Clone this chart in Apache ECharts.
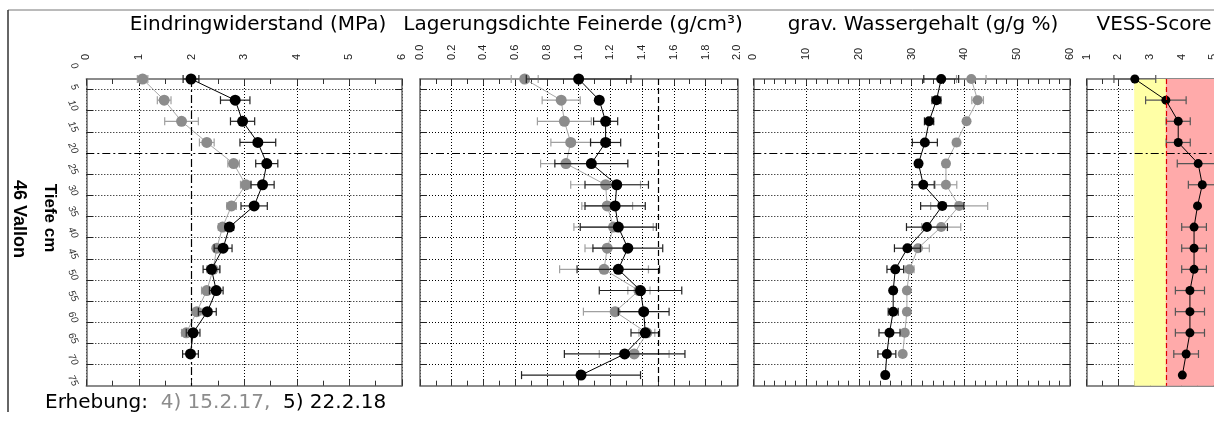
<!DOCTYPE html>
<html>
<head>
<meta charset="utf-8">
<script src="https://cdn.jsdelivr.net/npm/echarts@6/dist/echarts.min.js"></script>
<style>
  html, body { margin: 0; padding: 0; background: #fff; }
  #chart { width: 1214px; height: 421px; }
</style>
</head>
<body>
<div id="chart"></div>
<script>
// Mid-depth of each sampled layer (cm)
const depth = [2.5, 7.5, 12.5, 17.5, 22.5, 27.5, 32.5, 37.5, 42.5, 47.5, 52.5, 57.5, 62.5, 67.5, 72.5];
// Depth tick values and labels
const depthTicks = [5, 10, 15, 20, 25, 30, 35, 40, 45, 50, 55, 60, 65, 70];
const depthRange = [2.5, 75];
const plowLine = 20;

// Eindringwiderstand (MPa): survey 4) 15.2.17 and survey 5) 22.2.18
const pen4 = [1.07, 1.48, 1.81, 2.29, 2.80, 3.03, 2.76, 2.59, 2.48, 2.41, 2.29, 2.10, 1.90];
const pen4Err = [0.10, 0.13, 0.32, 0.14, 0.11, 0.10, 0.09, 0.08, 0.06, 0.12, 0.10, 0.10, 0.09];
const pen5 = [1.99, 2.83, 2.97, 3.26, 3.43, 3.35, 3.19, 2.72, 2.60, 2.38, 2.47, 2.30, 2.03, 1.98];
const pen5Err = [0.15, 0.28, 0.23, 0.34, 0.21, 0.22, 0.25, 0.08, 0.17, 0.16, 0.13, 0.17, 0.13, 0.15];
const penLimit = 2;

// Lagerungsdichte Feinerde (g/cm3)
const bd4 = [0.66, 0.89, 0.91, 0.95, 0.92, 1.17, 1.18, 1.22, 1.18, 1.16, 1.38, 1.23, 1.43, 1.35];
const bd4Err = [0.085, 0.12, 0.17, 0.125, 0.16, 0.22, 0.16, 0.25, 0.14, 0.28, 0.07, 0.20, 0.05, 0.22];
const bd5 = [1.00, 1.13, 1.17, 1.17, 1.08, 1.24, 1.23, 1.25, 1.31, 1.25, 1.39, 1.41, 1.42, 1.29, 1.015];
const bd5Err = [0.33, 0.02, 0.076, 0.095, 0.23, 0.20, 0.19, 0.24, 0.22, 0.26, 0.26, 0.16, 0.09, 0.38, 0.375];
const bdLimit = 1.5;

// grav. Wassergehalt (g/g %)
const wc4 = [41.3, 42.5, 40.4, 38.5, 36.5, 36.5, 39.0, 35.6, 31.2, 29.6, 29.1, 29.1, 28.7, 28.3];
const wc4Err = [2.8, 1.1, 0.5, 0.6, 0.5, 2.05, 5.4, 3.7, 2.15, 0.85, 0.5, 0.5, 0.5, 0.5];
const wc5 = [35.6, 34.7, 33.3, 32.5, 31.3, 32.2, 35.8, 32.9, 29.2, 26.9, 26.5, 26.5, 25.8, 25.3, 25.0];
const wc5Err = [3.3, 0.85, 0.88, 2.37, 0.5, 2.08, 4.1, 3.88, 2.46, 1.58, 0.5, 0.95, 1.99, 1.7, 0];

// VESS-Score, survey 5
const vess5 = [2.52, 3.50, 3.89, 3.89, 4.52, 4.65, 4.50, 4.39, 4.39, 4.39, 4.26, 4.26, 4.26, 4.14, 4.02];
const vess5Err = [0.66, 0.64, 0.38, 0.38, 0.66, 0.44, 0, 0.39, 0.39, 0.39, 0.46, 0.46, 0.46, 0.39, 0];
const vessBands = [[2.5, 3.5], [3.5, 5.5]];
const vessLimit = 3.5;

const surveyLabels = ['4) 15.2.17,', '5) 22.2.18'];

// ---- layout & styling ----
const plotTop = 79, plotHeight = 306.7;
const GREY = '#8c8c8c', GREY_LINE = '#a8a8a8', GREY_BAR = '#a0a0a0';
const BLACK = '#000', BLACK_BAR = '#222';
const FRAME = '#666';
const DASHDOT = [8, 3, 2, 3];

const panels = [
  { title: 'Eindringwiderstand (MPa)', titleX: 258, left: 86.3, width: 315.7,
    min: 0, max: 6, interval: 1, minorSplit: 2, decimals: 0, sym: 11,
    data: [{ v: pen4, e: pen4Err, grey: true }, { v: pen5, e: pen5Err }],
    vLines: [{ x: penLimit, color: '#000', type: DASHDOT, width: 1.2 }] },
  { title: 'Lagerungsdichte Feinerde (g/cm³)', titleX: 573, left: 420, width: 317.3,
    min: 0, max: 2, interval: 0.2, minorSplit: 2, decimals: 1, sym: 11,
    data: [{ v: bd4, e: bd4Err, grey: true }, { v: bd5, e: bd5Err }],
    vLines: [{ x: bdLimit, color: '#000', type: [6, 3], width: 1.2 }] },
  { title: 'grav. Wassergehalt (g/g %)', titleX: 923, left: 753.3, width: 316.7,
    min: 0, max: 60, interval: 10, minorSplit: 5, decimals: 0, sym: 10,
    data: [{ v: wc4, e: wc4Err, grey: true }, { v: wc5, e: wc5Err }],
    vLines: [] },
  { title: 'VESS-Score', titleX: 1154, left: 1086.7, width: 142.5,
    min: 1, max: 5.5, interval: 1, minorSplit: 2, decimals: 0, sym: 9,
    data: [{ v: vess5, e: vess5Err, barColor: '#555' }],
    vLines: [{ x: vessLimit, color: '#e00000', type: [5, 3], width: 1.2 }],
    bands: [{ range: vessBands[0], color: '#ffffa6' }, { range: vessBands[1], color: '#ffaaaa' }],
    hideMaxLabel: true }
];

function errorBars(color) {
  return function (params, api) {
    const v = api.value(0), d = api.value(1), e = api.value(2);
    if (!(e > 0)) return null;
    const a = api.coord([v - e, d]);
    const b = api.coord([v + e, d]);
    const h = 4;
    const st = { stroke: color, lineWidth: 1.2 };
    return {
      type: 'group',
      children: [
        { type: 'line', shape: { x1: a[0], y1: a[1], x2: b[0], y2: b[1] }, style: st },
        { type: 'line', shape: { x1: a[0], y1: a[1] - h, x2: a[0], y2: a[1] + h }, style: st },
        { type: 'line', shape: { x1: b[0], y1: b[1] - h, x2: b[0], y2: b[1] + h }, style: st }
      ]
    };
  };
}

const grid = [], xAxis = [], yAxis = [], series = [];

panels.forEach((p, i) => {
  grid.push({ left: p.left, top: plotTop, width: p.width, height: plotHeight, outerBoundsMode: 'none' });

  // vertical split lines; the reference line replaces the regular one at the same value
  const nTicks = Math.ceil((p.max - p.min) / p.interval - 1e-6) + 1;
  const vColors = [];
  for (let k = 0; k < nTicks; k++) {
    const val = p.min + k * p.interval;
    const hidden = p.vLines.some(l => Math.abs(l.x - val) < 1e-6);
    vColors.push(hidden ? 'rgba(0,0,0,0)' : '#000');
  }
  const hColors = depthTicks.map(t => (t === plowLine ? 'rgba(0,0,0,0)' : '#000'));

  const xBase = {
    gridIndex: i, type: 'value', min: p.min, max: p.max, interval: p.interval,
    axisLine: { show: true, onZero: false, lineStyle: { color: FRAME, width: 1.5 } },
    axisTick: { show: true, inside: true, length: 6, lineStyle: { color: '#333' } },
    minorTick: { show: true, splitNumber: p.minorSplit, length: 5, lineStyle: { color: '#333' } }
  };
  xAxis.push(Object.assign({}, xBase, {
    position: 'top',
    axisLabel: {
      show: true, rotate: -90, margin: 19, fontSize: 11, color: '#222',
      fontFamily: 'Liberation Sans, Arial, sans-serif',
      showMaxLabel: p.hideMaxLabel ? false : null,
      formatter: v => v.toFixed(p.decimals)
    },
    splitLine: { show: true, lineStyle: { color: vColors, type: [1, 2], width: 1 } }
  }));
  xAxis.push(Object.assign({}, xBase, {
    position: 'bottom',
    axisLabel: { show: false },
    splitLine: { show: false }
  }));

  const yBase = {
    gridIndex: i, type: 'value', inverse: true, min: depthRange[0], max: depthRange[1],
    axisLine: { show: true, onZero: false, lineStyle: { color: FRAME, width: 1.5 } },
    axisTick: { show: true, inside: true, length: 7, customValues: depthTicks, lineStyle: { color: '#222' } },
    axisLabel: { show: false }
  };
  yAxis.push(Object.assign({}, yBase, {
    position: 'left',
    splitLine: { show: true, lineStyle: { color: hColors, type: [1, 2], width: 1 } }
  }));
  yAxis.push(Object.assign({}, yBase, { position: 'right', splitLine: { show: false } }));

  const xi = 2 * i, yi = 2 * i;

  // reference lines and score bands
  const mlData = [{ yAxis: plowLine, lineStyle: { color: '#000', type: DASHDOT, width: 1.2 } }];
  p.vLines.forEach(l => mlData.push({ xAxis: l.x, lineStyle: { color: l.color, type: l.type, width: l.width } }));
  const guide = {
    type: 'line', xAxisIndex: xi, yAxisIndex: yi, data: [], z: -1, silent: true, animation: false,
    markLine: { symbol: 'none', silent: true, animation: false, label: { show: false }, data: mlData }
  };
  if (p.bands) {
    guide.markArea = {
      silent: true, animation: false, label: { show: false },
      data: p.bands.map(b => [{ xAxis: b.range[0], itemStyle: { color: b.color } }, { xAxis: b.range[1] }])
    };
  }
  series.push(guide);

  p.data.forEach((d, k) => {
    const rows = d.v.map((v, j) => [v, depth[j], d.e[j]]);
    const barColor = d.barColor || (d.grey ? GREY_BAR : BLACK_BAR);
    series.push({
      type: 'custom', xAxisIndex: xi, yAxisIndex: yi, data: rows, encode: { x: 0, y: 1 },
      renderItem: errorBars(barColor), z: 2 + 2 * k, clip: false, silent: true, animation: false
    });
    series.push({
      type: 'line', xAxisIndex: xi, yAxisIndex: yi,
      data: rows.map(r => [r[0], r[1]]),
      symbol: 'circle', symbolSize: p.sym, showSymbol: true,
      itemStyle: { color: d.grey ? GREY : BLACK },
      lineStyle: { color: d.grey ? GREY_LINE : BLACK, width: 1 },
      z: 3 + 2 * k, clip: false, silent: true, animation: false
    });
  });
});

// depth scale labels (0 ... 75), placed left of the first panel
const labelGrid = grid.length;
const extra = plotHeight / (depthRange[1] - depthRange[0]);
grid.push({ left: 86.3, top: plotTop - depthRange[0] * extra, width: 5, height: depthRange[1] * extra, outerBoundsMode: 'none' });
xAxis.push({ gridIndex: labelGrid, type: 'value', show: false });
yAxis.push({
  gridIndex: labelGrid, type: 'value', inverse: true, min: 0, max: 75, interval: 5, position: 'left',
  axisLine: { show: false }, axisTick: { show: false }, splitLine: { show: false },
  axisLabel: { show: true, rotate: -65, margin: 11, fontSize: 10, fontStyle: 'italic', color: '#333',
               fontFamily: 'Liberation Sans, Arial, sans-serif' }
});

const titleFont = 'DejaVu Sans, sans-serif';
const graphic = [
  { type: 'polyline', silent: true, shape: { points: [[8, 10], [1214, 10]] }, style: { stroke: '#777', lineWidth: 1, fill: null } },
  { type: 'polyline', silent: true, shape: { points: [[8, 10], [8, 412]] }, style: { stroke: '#333', lineWidth: 1.5, fill: null } },
  { type: 'text', silent: true, x: 18.5, y: 219, rotation: -Math.PI / 2,
    style: { text: '46 Vallon', fontSize: 18, fontWeight: 'bold', fontFamily: 'Liberation Sans, Arial, sans-serif',
             fill: '#000', align: 'center', verticalAlign: 'middle' } },
  { type: 'text', silent: true, x: 50, y: 218, rotation: -Math.PI / 2,
    style: { text: 'Tiefe cm', fontSize: 17, fontWeight: 'bold', fontFamily: 'Liberation Sans, Arial, sans-serif',
             fill: '#000', align: 'center', verticalAlign: 'middle' } },
  { type: 'text', silent: true, x: 45, y: 403,
    style: { text: 'Erhebung:  {g|' + surveyLabels[0] + '}  {b|' + surveyLabels[1] + '}',
             fontSize: 20, fontFamily: titleFont, fill: '#000', align: 'left', verticalAlign: 'middle',
             rich: { g: { fill: GREY, fontSize: 20, fontFamily: titleFont }, b: { fill: '#000', fontSize: 20, fontFamily: titleFont } } } }
];
panels.forEach(p => graphic.push({
  type: 'text', silent: true, x: p.titleX, y: 25,
  style: { text: p.title, fontSize: 20, fontFamily: titleFont, fill: '#000', align: 'center', verticalAlign: 'middle' }
}));

const chart = echarts.init(document.getElementById('chart'), null, { renderer: 'canvas' });
chart.setOption({
  backgroundColor: '#fff',
  animation: false,
  grid, xAxis, yAxis, series, graphic
});
</script>
</body>
</html>
